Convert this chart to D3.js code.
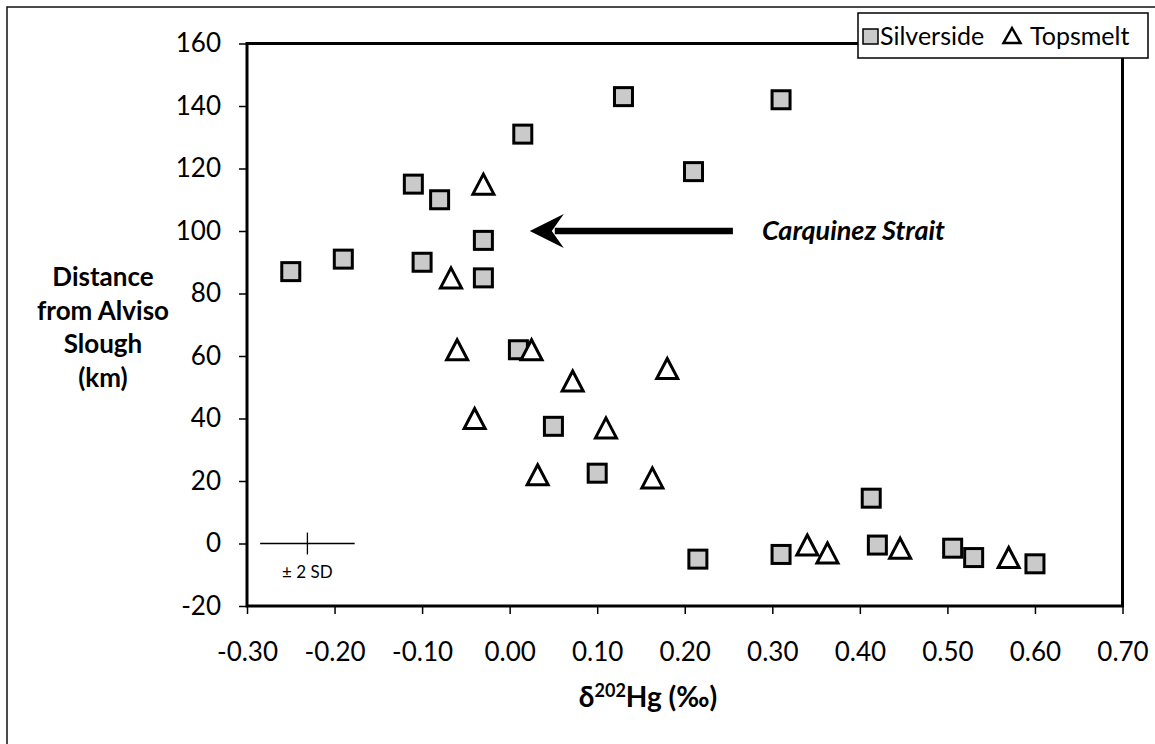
<!DOCTYPE html>
<html>
<head>
<meta charset="utf-8">
<script src="https://cdn.jsdelivr.net/npm/d3@7"></script>
<style>
  body { margin: 0; background: #fff; }
  svg { display: block; font-family: Lato, "Open Sans", sans-serif; }
</style>
</head>
<body>
<svg id="chart" width="1155" height="744"></svg>
<script>
// values
const silverside = [
  [-0.25, 87], [-0.19, 91], [-0.10, 90], [-0.11, 115], [-0.08, 110],
  [-0.03, 97], [-0.03, 85], [0.015, 131], [0.13, 143], [0.31, 142],
  [0.21, 119], [0.01, 62], [0.05, 37.5], [0.10, 22.5], [0.413, 14.5],
  [0.215, -5], [0.31, -3.5], [0.42, -0.5], [0.506, -1.5], [0.53, -4.5],
  [0.60, -6.5]
]
const topsmelt = [
  [-0.03, 115], [-0.067, 85], [-0.06, 62], [0.025, 62], [0.072, 52],
  [0.18, 56], [-0.04, 40], [0.11, 37], [0.032, 22], [0.163, 21],
  [0.34, -0.5], [0.363, -3], [0.446, -1.5], [0.57, -4.5]
]
const xTicks = [-0.3, -0.2, -0.1, 0, 0.1, 0.2, 0.3, 0.4, 0.5, 0.6, 0.7]
const yTicks = [-20, 0, 20, 40, 60, 80, 100, 120, 140, 160]
const errorBar = { x: -0.231, dx: 0.054, y: 0, dy: 3.5 }
const arrow = { from: [0.255, 100], to: [0.023, 100] }

const svg = d3.select('#chart')
const plot = { left: 247, right: 1122.5, top: 43.5, bottom: 606 }

const x = d3.scaleLinear().domain([-0.3, 0.7]).range([plot.left, plot.right])
const y = d3.scaleLinear().domain([-20, 160]).range([plot.bottom, plot.top])

// outer frame (only top/left visible in the figure)
svg.append('rect')
  .attr('x', 7).attr('y', 7).attr('width', 1170).attr('height', 760)
  .attr('fill', 'none').attr('stroke', '#111').attr('stroke-width', 1.5)

// axes - excel style hyphen minus
const xAxis = d3.axisBottom(x).tickValues(xTicks).tickFormat(d => d.toFixed(2))
  .tickSize(8).tickPadding(29)
const yAxis = d3.axisLeft(y).tickValues(yTicks).tickFormat(d => String(d))
  .tickSize(8).tickPadding(18)

const gx = svg.append('g').attr('transform', `translate(0,${plot.bottom})`).call(xAxis)
const gy = svg.append('g').attr('transform', `translate(${plot.left},0)`).call(yAxis)
for (const g of [gx, gy]) {
  g.select('.domain').remove()
  g.selectAll('.tick line').attr('stroke', '#000').attr('stroke-width', 1.5)
  g.selectAll('.tick text').attr('font-size', 26).attr('fill', '#000')
    .attr('font-family', 'Lato, sans-serif')
}

svg.append('rect')
  .attr('x', plot.left).attr('y', plot.top)
  .attr('width', plot.right - plot.left).attr('height', plot.bottom - plot.top)
  .attr('fill', 'none').attr('stroke', '#000').attr('stroke-width', 3)

// error bar key
const eb = svg.append('g').attr('stroke', '#000').attr('stroke-width', 1.3)
eb.append('line')
  .attr('x1', x(errorBar.x - errorBar.dx)).attr('x2', x(errorBar.x + errorBar.dx))
  .attr('y1', y(errorBar.y)).attr('y2', y(errorBar.y))
eb.append('line')
  .attr('x1', x(errorBar.x)).attr('x2', x(errorBar.x))
  .attr('y1', y(errorBar.y - errorBar.dy)).attr('y2', y(errorBar.y + errorBar.dy))
svg.append('text')
  .attr('x', x(errorBar.x)).attr('y', y(errorBar.y) + 34)
  .attr('text-anchor', 'middle').attr('font-size', 17)
  .text('± 2 SD')

// arrow + label
const ax1 = x(arrow.from[0]); const ax2 = x(arrow.to[0]); const ay = y(arrow.from[1])
svg.append('line')
  .attr('x1', ax1).attr('x2', ax2 + 25).attr('y1', ay).attr('y2', ay)
  .attr('stroke', '#000').attr('stroke-width', 6.5)
svg.append('path')
  .attr('d', `M${ax2},${ay} L${ax2 + 34},${ay - 17} L${ax2 + 22},${ay} L${ax2 + 34},${ay + 17} Z`)
  .attr('fill', '#000')
svg.append('text')
  .attr('x', ax1 + 29).attr('y', ay).attr('dy', '0.35em')
  .attr('font-size', 27).attr('font-weight', 'bold').attr('font-style', 'italic')
  .text('Carquinez Strait')

// markers
const sq = 18
svg.append('g').selectAll('rect').data(silverside).join('rect')
  .attr('x', d => x(d[0]) - sq / 2).attr('y', d => y(d[1]) - sq / 2)
  .attr('width', sq).attr('height', sq)
  .attr('fill', '#cacaca').attr('stroke', '#000').attr('stroke-width', 3)

const tri = (w, h) => `M0,${-h / 2} L${w / 2},${h / 2} L${-w / 2},${h / 2} Z`
svg.append('g').selectAll('path').data(topsmelt).join('path')
  .attr('transform', d => `translate(${x(d[0])},${y(d[1])})`)
  .attr('d', tri(21, 20))
  .attr('fill', '#fff').attr('stroke', '#000').attr('stroke-width', 3)
  .attr('stroke-linejoin', 'miter')

// axis titles
const xt = svg.append('text')
  .attr('x', 648).attr('y', 707)
  .attr('text-anchor', 'middle').attr('font-size', 28).attr('font-weight', 'bold')
xt.append('tspan').text('δ')
xt.append('tspan').attr('font-size', 18).attr('dy', -10).text('202')
xt.append('tspan').attr('dy', 10).text('Hg (‰)')

const yTitle = ['Distance', 'from Alviso', 'Slough', '(km)']
svg.append('g').selectAll('text').data(yTitle).join('text')
  .attr('x', 103).attr('y', (d, i) => 286 + i * 33.5)
  .attr('text-anchor', 'middle').attr('font-size', 26).attr('font-weight', 'bold')
  .text(d => d)

// legend
const lg = svg.append('g')
lg.append('rect')
  .attr('x', 858).attr('y', 13).attr('width', 290).attr('height', 45)
  .attr('fill', '#fff').attr('stroke', '#000').attr('stroke-width', 1.5)
lg.append('rect')
  .attr('x', 863).attr('y', 29).attr('width', 15).attr('height', 15)
  .attr('fill', '#cacaca').attr('stroke', '#000').attr('stroke-width', 1.5)
lg.append('text').attr('x', 880).attr('y', 45).attr('font-size', 25).text('Silverside')
lg.append('path')
  .attr('transform', 'translate(1012,35.5)')
  .attr('d', tri(17, 15))
  .attr('fill', 'none').attr('stroke', '#000').attr('stroke-width', 2.5)
lg.append('text').attr('x', 1030).attr('y', 45).attr('font-size', 25).text('Topsmelt')
</script>
</body>
</html>
